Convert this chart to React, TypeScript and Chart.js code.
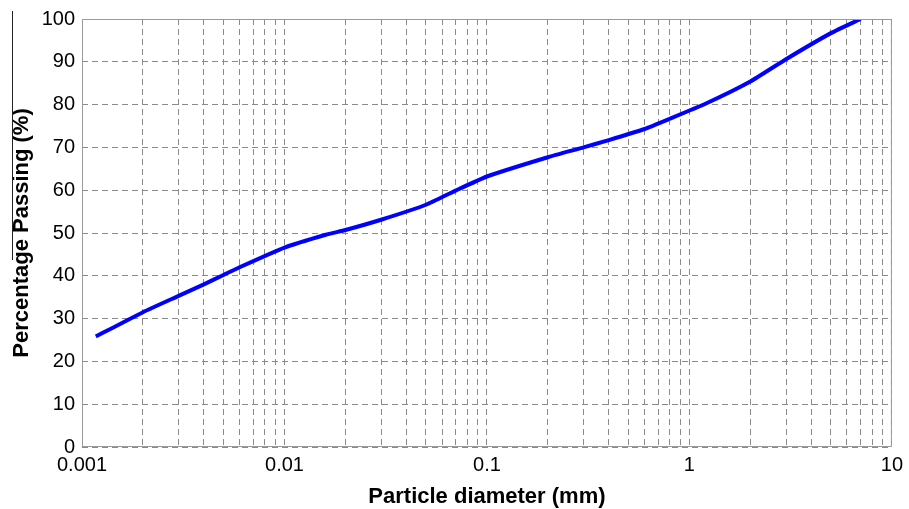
import React, { useEffect, useRef } from "react";
import { Chart, registerables } from "chart.js";

Chart.register(...registerables);

const diameters = [0.00117, 0.002, 0.003, 0.004, 0.005, 0.006, 0.01, 0.016, 0.02, 0.03, 0.05, 0.07, 0.1, 0.2, 0.3, 0.4, 0.6, 0.8, 1.2, 2, 3, 5, 7.0];
const passing = [25.8, 31.5, 35.3, 38.0, 40.2, 42.0, 46.6, 49.6, 50.7, 53.1, 56.6, 59.9, 63.2, 67.7, 70.0, 71.7, 74.3, 76.7, 80.2, 85.4, 90.6, 96.7, 100];

const decadeLabels = ["0.001", "0.01", "0.1", "1", "10"];
const decadeValues = [0.001, 0.01, 0.1, 1, 10];
const multiples = [1, 2, 3, 4, 5, 6, 7, 8, 9];

const FONT = "'Liberation Sans', Arial, Helvetica, sans-serif";

export default function App() {
  const ref = useRef<HTMLCanvasElement | null>(null);

  useEffect(() => {
    if (!ref.current) return;
    const boxPlugin = {
      id: "boxPlugin",
      afterDatasetsDraw(chart: any) {
        const { ctx, chartArea } = chart;
        ctx.save();
        ctx.strokeStyle = "#9a9a9a";
        ctx.lineWidth = 1;
        ctx.setLineDash([]);
        ctx.strokeRect(chartArea.left + 0.5, chartArea.top + 0.5, chartArea.right - chartArea.left - 1, chartArea.bottom - chartArea.top - 1);
        // scan artifact line at far left
        ctx.strokeStyle = "#222";
        ctx.beginPath();
        ctx.moveTo(12.5, 11);
        ctx.lineTo(12.5, 260);
        ctx.stroke();
        ctx.restore();
      },
    };

    const chart = new Chart(ref.current, {
      type: "line",
      data: {
        datasets: [
          {
            data: diameters.map((d, i) => ({ x: d, y: passing[i] })),
            borderColor: "rgb(0,0,255)",
            borderWidth: 4,
            pointRadius: 0,
            tension: 0.15,
            fill: false,
          },
        ],
      },
      options: {
        animation: false,
        responsive: false,
        devicePixelRatio: 1,
        layout: { padding: { top: 19, right: 11, left: 0, bottom: 0 } },
        plugins: { legend: { display: false }, tooltip: { enabled: false } },
        scales: {
          x: {
            type: "logarithmic",
            min: 0.001,
            max: 10,
            afterFit(scale: any) {
              scale.height = 62;
            },
            afterBuildTicks(scale: any) {
              const t: any[] = [];
              decadeValues.forEach((dv, di) => {
                if (di === decadeValues.length - 1) {
                  t.push({ value: dv });
                } else {
                  multiples.forEach((m) => t.push({ value: +(dv * m).toPrecision(6) }));
                }
              });
              scale.ticks = t;
            },
            ticks: {
              autoSkip: false,
              maxRotation: 0,
              padding: 6,
              color: "#000",
              font: { family: FONT, size: 20 },
              callback(value: any) {
                const idx = decadeValues.findIndex((d) => Math.abs(d - Number(value)) / d < 1e-6);
                return idx >= 0 ? decadeLabels[idx] : "";
              },
            },
            grid: {
              color: "#8a8a8a",
              lineWidth: 1,
              drawTicks: false,
            },
            border: { display: false, dash: [6, 4] },
            title: {
              display: true,
              text: "Particle diameter (mm)",
              color: "#000",
              font: { family: FONT, size: 22, weight: "bold", lineHeight: 1 },
              padding: { top: 0, bottom: 1 },
            },
          },
          y: {
            min: 0,
            max: 100,
            afterFit(scale: any) {
              scale.width = 82;
            },
            ticks: {
              stepSize: 10,
              padding: 7,
              color: "#000",
              font: { family: FONT, size: 20 },
            },
            grid: {
              color: "#8a8a8a",
              lineWidth: 1,
              drawTicks: false,
            },
            border: { display: false, dash: [6, 4] },
            title: {
              display: true,
              text: "Percentage Passing (%)",
              color: "#000",
              font: { family: FONT, size: 22, weight: "bold", lineHeight: 1 },
              padding: { top: 11, bottom: 0 },
            },
          },
        },
      },
      plugins: [boxPlugin],
    } as any);
    return () => chart.destroy();
  }, []);

  return (
    <div style={{ position: "absolute", left: 0, top: 0, width: 909, height: 509, background: "#fff" }}>
      <canvas ref={ref} width={909} height={509} />
    </div>
  );
}
